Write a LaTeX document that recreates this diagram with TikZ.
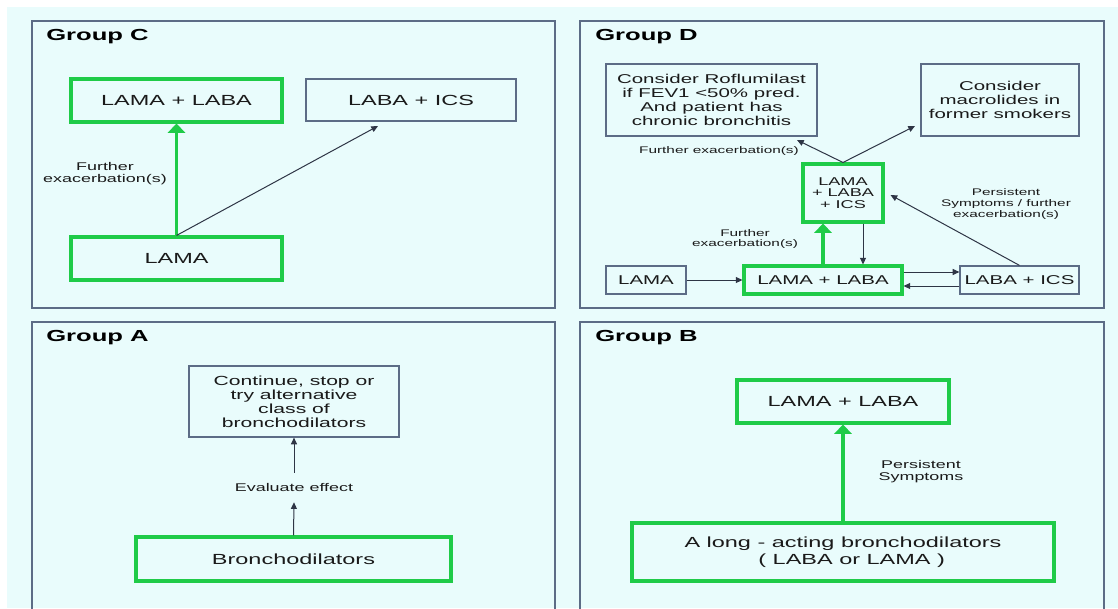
\documentclass[tikz,border=0pt]{standalone}
\usepackage{fontspec}
\setmainfont{Liberation Sans}[FakeStretch=1.6]
\usetikzlibrary{arrows.meta}
\definecolor{bg}{HTML}{E9FCFC}
\definecolor{frame}{HTML}{5C6C86}
\definecolor{grn}{HTML}{1FCB48}
\definecolor{txt}{HTML}{1A1A1A}
\definecolor{arr}{HTML}{2E3545}
\tikzset{
  sz/.style 2 args={minimum width=#1*0.75pt, minimum height=#2*0.75pt},
  groupframe/.style={draw=frame, line width=1.2pt},
  gbox/.style={draw=grn, line width=2.3pt, inner sep=0pt, align=center, text=txt},
  pbox/.style={draw=frame, line width=0.9pt, inner sep=0pt, align=center, text=txt},
  garrow/.style={draw=grn, line width=2.3pt, -{Triangle[width=13pt,length=7pt]}},
  tarrow/.style={draw=arr, line width=0.75pt, -{Triangle[width=4.5pt,length=5pt]}},
  lbl/.style={text=txt, align=center, inner sep=0pt},
  grouptitle/.style={font=\bfseries\fontsize{12pt}{14pt}\selectfont, anchor=base west, inner sep=0pt, text=black},
  big/.style={font=\fontsize{11pt}{13pt}\selectfont},
  mid/.style={font=\fontsize{9.6pt}{10.4pt}\selectfont},
  small/.style={font=\fontsize{8.4pt}{9pt}\selectfont},
  tiny/.style={font=\fontsize{7.2pt}{8pt}\selectfont},
}
\begin{document}
\begin{tikzpicture}[x=0.75pt,y=-0.75pt]
\useasboundingbox (0,0) rectangle (1118,608);
\fill[white] (0,0) rectangle (1118,608);
\fill[bg] (7,7) rectangle (1118,608);

% group frames
\draw[groupframe] (32,21) rectangle (555,308);
\draw[groupframe] (580,21) rectangle (1104,308);
\draw[groupframe] (32,322) rectangle (555,615);
\draw[groupframe] (580,322) rectangle (1104,615);

\node[grouptitle] (tC) at (46,40) {Group C};
\node[grouptitle] (tD) at (595,40) {Group D};
\node[grouptitle] (tA) at (46,341) {Group A};
\node[grouptitle] (tB) at (595,341) {Group B};

% Group C
\node[gbox, big, sz={211}{43}] (c1) at (176.5,100.5) {LAMA + LABA};
\node[pbox, big, sz={210}{42}] (c2) at (411,100) {LABA + ICS};
\node[gbox, big, sz={211}{43}] (c3) at (176.5,258.5) {LAMA};
\coordinate (c2t) at (378,126);
\draw[garrow] (c3.north) -- (c1.south);
\draw[tarrow] (c3.north) -- (c2t);
\node[lbl, small] (cl) at (105,174) {Further\\exacerbation(s)};

% Group D
\node[pbox, mid, sz={211}{72}] (d1) at (711.5,100) {Consider Roflumilast\\if FEV1 <50\% pred.\\And patient has\\chronic bronchitis};
\node[pbox, mid, sz={158}{72}] (d2) at (1000,100) {Consider\\macrolides in\\former smokers};
\node[gbox, font=\fontsize{8.5pt}{8.8pt}\selectfont, sz={80}{58}] (d3) at (843,193) {LAMA\\+ LABA\\+ ICS};
\node[pbox, mid, sz={80}{28}] (d4) at (646,280) {LAMA};
\node[gbox, mid, sz={158}{28}] (d5) at (823,280) {LAMA + LABA};
\node[pbox, mid, sz={119}{28}] (d6) at (1019.5,280) {LABA + ICS};
\coordinate (d1t) at (797,140);
\coordinate (d2t) at (915,126);
\draw[tarrow] (d3.north) -- (d1t);
\draw[tarrow] (d3.north) -- (d2t);
\node[lbl, tiny] (dl1) at (719,151) {Further exacerbation(s)};
\draw[garrow] (d5.north) -- (d5.north |- d3.south);
\draw[tarrow] ([xshift=15pt]d3.south) -- ([xshift=15pt]d3.south |- d5.north);
\node[lbl, tiny] (dl2) at (745,239) {Further\\exacerbation(s)};
\draw[tarrow] (d4.east) -- (d5.west);
\draw[tarrow] ([yshift=6pt]d5.east) -- ([yshift=6pt]d6.west);
\draw[tarrow] ([yshift=-4.5pt]d6.west) -- ([yshift=-4.5pt]d5.east);
\draw[tarrow] (d6.north) -- ([xshift=4.5pt,yshift=-1.5pt]d3.east);
\node[lbl, tiny] (dl3) at (1006,204) {Persistent\\Symptoms / further\\exacerbation(s)};

% Group A
\node[pbox, font=\fontsize{9.9pt}{10.4pt}\selectfont, sz={210}{71}] (a1) at (294,401.5) {Continue, stop or\\try alternative\\class of\\bronchodilators};
\node[gbox, big, sz={315}{44}] (a2) at (293.5,559) {Bronchodilators};
\node[lbl, small, minimum height=29*0.75pt] (al) at (294,487.5) {Evaluate effect};
\draw[tarrow] (a2.north) -- (al.south);
\draw[tarrow] (al.north) -- (a1.south);

% Group B
\node[gbox, big, sz={212}{43}] (b1) at (843,401.5) {LAMA + LABA};
\node[gbox, big, sz={422}{58}] (b2) at (843,552) {A long - acting bronchodilators\\\hspace*{13pt}( LABA or LAMA )};
\draw[garrow] (b2.north) -- (b1.south);
\node[lbl, small] (bl) at (921,472) {Persistent\\Symptoms};
\end{tikzpicture}
\end{document}
